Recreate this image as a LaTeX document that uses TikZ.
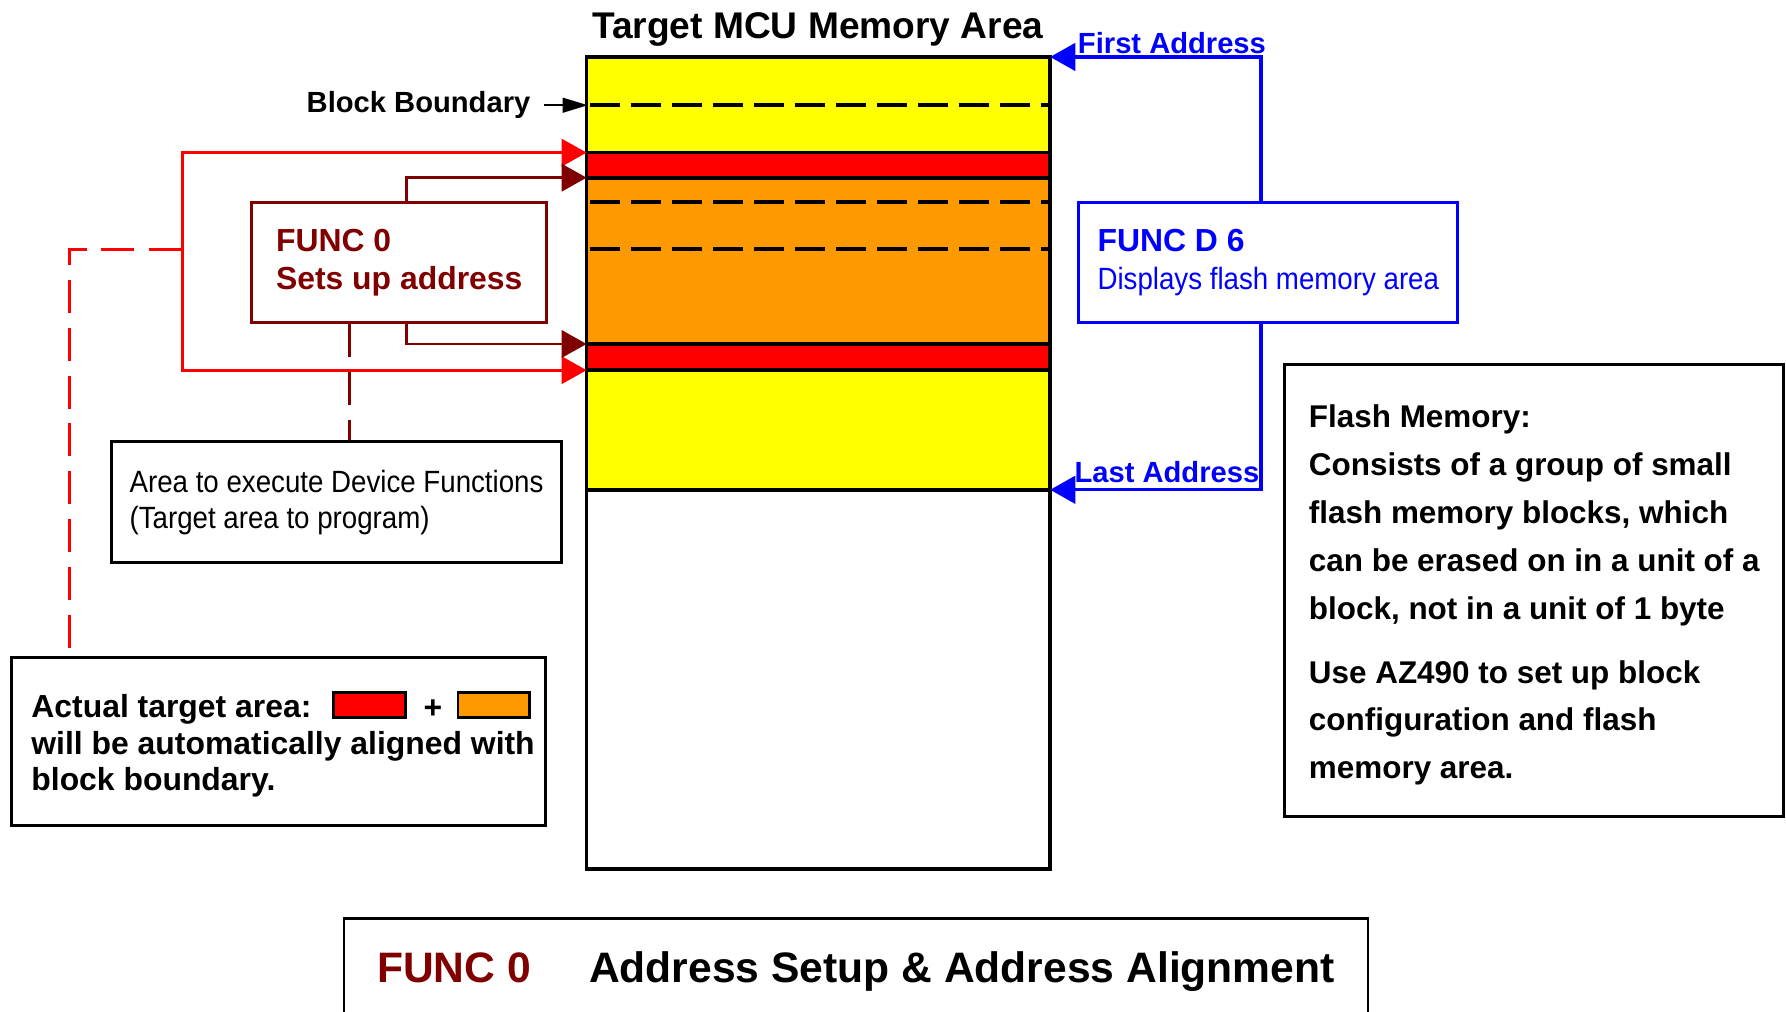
\documentclass[tikz,border=0pt]{standalone}
\usepackage{fontspec}
\setmainfont{Liberation Sans}
\newfontfamily\narrowfont[FakeStretch=0.9]{Liberation Sans}
\usetikzlibrary{arrows.meta}
\definecolor{memyellow}{RGB}{255,255,0}
\definecolor{memred}{RGB}{255,0,0}
\definecolor{memorange}{RGB}{255,153,0}
\definecolor{funcred}{RGB}{128,0,0}
\definecolor{funcblue}{RGB}{0,0,255}
\tikzset{
  box/.style={draw, line width=1.3pt, align=left, inner sep=0pt},
  lbl/.style={inner sep=0pt, font=\bfseries\fontsize{12.8}{15}\selectfont},
  memline/.style={line width=1.6pt},
  memdash/.style={line width=1.8pt, dash pattern=on 13pt off 5pt},
  redarrow/.style={draw=memred, line width=1.2pt, -{Triangle[length=11pt,width=12pt]}},
  reddash/.style={draw=memred, line width=1.2pt, dash pattern=on 14.5pt off 6.5pt},
  darkarrow/.style={draw=funcred, line width=1.3pt, -{Triangle[length=11pt,width=12pt]}},
  darkdash/.style={draw=funcred, line width=1.3pt, dash pattern=on 14.5pt off 6.5pt},
  bluearrow/.style={draw=funcblue, line width=1.5pt, -{Triangle[length=11pt,width=12pt]}},
  blackarrow/.style={line width=0.8pt, -{Triangle[length=11pt,width=6.5pt]}},
  swatch/.style={draw, line width=1.2pt, minimum width=31.5pt, minimum height=11pt, inner sep=0pt}
}
\begin{document}
\begin{tikzpicture}[x=0.5pt,y=-0.5pt]
\useasboundingbox (0,0) rectangle (1568,888);
% memory area
\fill[memyellow] (516,50) rectangle (922,134);
\fill[memred] (516,134) rectangle (922,156);
\fill[memorange] (516,156) rectangle (922,302);
\fill[memred] (516,302) rectangle (922,325);
\fill[memyellow] (516,325) rectangle (922,430);
\foreach \y in {134,156,302,325,430} \draw[memline] (516,\y) -- (922,\y);
\foreach \y in {92,177,219} \draw[memdash] (518,\y) -- (922,\y);
\draw[memline] (515,50) rectangle (922,763);
\coordinate (bb) at (516,92);
\coordinate (redtop) at (515,134);
\coordinate (darktop) at (515,156);
\coordinate (darkbot) at (515,302);
\coordinate (redbot) at (515,325);
\coordinate (first) at (922,50);
\coordinate (last) at (922,430);
\coordinate (bracket) at (160,219);
\node[anchor=base, inner sep=0pt, font=\bfseries\fontsize{16.3}{20}\selectfont] (title) at (718,33.5) {Target MCU Memory Area};
\node[lbl, anchor=base east] (bbound) at (466,99) {Block Boundary};
\draw[blackarrow] ([xshift=6pt]bbound.east) -- (bbound.east -| bb);
% boxes
\node[box, draw=funcred, text=funcred, minimum width=129.5pt, minimum height=52.5pt,
  font=\bfseries\fontsize{14}{17}\selectfont] (func0) at (350.5,230.5) {FUNC 0\\Sets up address};
\node[box, draw=funcblue, text=funcblue, minimum width=166.5pt, minimum height=52.5pt,
  font=\fontsize{14}{17}\selectfont] (d6) at (1113.5,230.5)
  {{\bfseries FUNC D 6}\\{\narrowfont\fontsize{13.5}{17}\selectfont Displays flash memory area}};
\node[box, minimum width=197.5pt, minimum height=53pt,
  font=\narrowfont\fontsize{13.5}{16}\selectfont] (area) at (295.5,441)
  {Area to execute Device Functions\\(Target area to program)};
\node[box, minimum width=234.5pt, minimum height=74pt,
  font=\bfseries\fontsize{14}{16}\selectfont] (actual) at (244.5,651)
  {\hspace*{4pt}\rule{0pt}{14.2pt}Actual target area:\\\hspace*{4pt}will be automatically aligned with\\\hspace*{4pt}block boundary.};
\node[swatch, fill=memred] (swred) at (324.5,619) {};
\node[inner sep=0pt, font=\bfseries\fontsize{14}{16}\selectfont] (plus) at (380,623) {+};
\node[swatch, fill=memorange] (sworange) at (433.5,619) {};
\node[box, minimum width=219pt, minimum height=198.5pt,
  font=\bfseries\fontsize{13.8}{21}\selectfont] (flash) at (1347,518.5)
  {\rule{0pt}{14.1pt}Flash Memory:\\Consists of a group of small\\flash memory blocks, which\\can be erased on in a unit of a\\block, not in a unit of 1 byte\\[7pt]Use AZ490 to set up block\\configuration and flash\\memory area.};
\node[lbl, anchor=base west, text=funcblue] (firstlbl) at (946,47) {First Address};
\node[lbl, anchor=base west, text=funcblue] (lastlbl) at (943,424) {Last Address};
% connectors
\draw[redarrow] (bracket) |- (redtop);
\draw[redarrow] (bracket) |- (redbot);
\draw[reddash] (bracket) -| ([xshift=26pt]actual.north west);
\draw[darkarrow] ([xshift=3.25pt]func0.north) |- (darktop);
\draw[darkarrow] ([xshift=3.25pt]func0.south) |- (darkbot);
\draw[darkdash] ([xshift=-21.75pt]func0.south) -- ([xshift=-21.75pt]func0.south |- area.north);
\draw[bluearrow] ([xshift=-3.25pt]d6.north) |- (first);
\draw[bluearrow] ([xshift=-3.25pt]d6.south) |- (last);
% caption
\node[box, anchor=north, minimum width=449.5pt, minimum height=46.7pt,
  font=\bfseries\fontsize{18.7}{22}\selectfont] (caption) at (751.5,805)
  {\textcolor{funcred}{FUNC 0}\hspace{25.5pt}Address Setup \& Address Alignment};
\end{tikzpicture}
\end{document}
